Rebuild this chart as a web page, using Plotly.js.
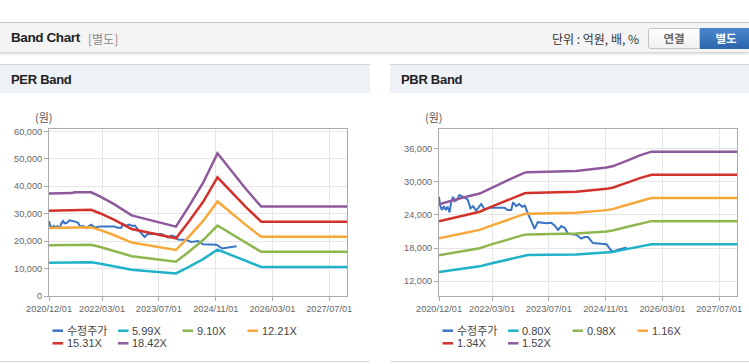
<!DOCTYPE html>
<html>
<head>
<meta charset="utf-8">
<script src="https://cdn.plot.ly/plotly-3.0.1.min.js"></script>
<style>
html,body{margin:0;padding:0;background:#fff;width:749px;height:364px;overflow:hidden;
  font-family:"Liberation Sans",Arial,"Noto Sans CJK KR",sans-serif;}
.abs{position:absolute;}
#topline{left:0;top:22px;width:749px;height:1px;background:#c2c2c2;}
#hdr{left:0;top:23px;width:749px;height:29px;background:#f4f4f4;box-shadow:0 2px 2px rgba(0,0,0,0.16);}
#hdrTitle{left:11px;top:30px;font-size:13.5px;font-weight:bold;color:#222;letter-spacing:-0.4px;line-height:16px;}
#hdrSub{left:88px;top:31px;font-size:12px;color:#8a8a8a;line-height:16px;font-family:"Noto Sans CJK KR",sans-serif;}
#unit{left:552px;top:30px;font-size:12px;color:#333;line-height:17px;font-family:"Noto Sans CJK KR",sans-serif;}
#btn1{left:648px;top:28px;width:50px;height:19px;border:1px solid #c4c4c4;border-radius:3px 0 0 3px;
  background:linear-gradient(#ffffff,#f0f0f0);color:#666;font-weight:bold;font-size:11.5px;text-align:center;line-height:19px;
  font-family:"Noto Sans CJK KR",sans-serif;}
#btn2{left:700px;top:28px;width:52px;height:21px;background:linear-gradient(#4a88cc,#2b65ab);color:#fff;font-weight:bold;
  font-size:11.5px;text-align:center;line-height:21px;font-family:"Noto Sans CJK KR",sans-serif;}
.ph{top:64px;height:28px;border-top:1px solid #d6d6d6;background:#eef1f6;}
.pt{top:72px;font-size:13px;font-weight:bold;color:#222;letter-spacing:-0.3px;line-height:16px;}
.bl{top:361px;height:1px;background:#d6d6d6;}
</style>
</head>
<body>
<div id="topline" class="abs"></div>
<div id="hdr" class="abs"></div>
<div id="hdrTitle" class="abs">Band Chart</div>
<div id="hdrSub" class="abs">[별도]</div>
<div id="unit" class="abs">단위 : 억원, 배, %</div>
<div id="btn1" class="abs">연결</div>
<div id="btn2" class="abs">별도</div>

<div class="abs ph" style="left:0;width:370px;"></div>
<div class="abs pt" style="left:11px;">PER Band</div>
<div class="abs ph" style="left:390px;width:359px;"></div>
<div class="abs pt" style="left:401px;">PBR Band</div>

<div id="per" class="abs" style="left:0;top:93px;width:370px;height:268px;"></div>
<div id="pbr" class="abs" style="left:390px;top:93px;width:359px;height:268px;"></div>

<div class="abs bl" style="left:0;width:370px;"></div>
<div class="abs bl" style="left:390px;width:359px;"></div>

<script>
// ---------- data ----------
const xTickVals = ['2020-12-01','2022-03-01','2023-07-01','2024-11-01','2026-03-01','2027-07-01'];
const xTickText = ['2020/12/01','2022/03/01','2023/07/01','2024/11/01','2026/03/01','2027/07/01'];
const xRange = ['2020-12-01','2027-12-01'];

const priceName = '수정주가';
const priceDates = ['2020-12-01','2020-12-10','2020-12-25','2021-01-12','2021-01-28','2021-02-12','2021-03-01','2021-03-16',
  '2021-04-01','2021-04-13','2021-05-04','2021-05-25','2021-07-16','2021-08-06','2021-08-28','2021-09-19','2021-10-16',
  '2021-11-28','2021-12-28','2022-02-10','2022-06-16','2022-07-13','2022-08-13','2022-08-28','2022-09-25','2022-10-19',
  '2022-11-16','2022-12-07','2023-01-04','2023-02-03','2023-03-01','2023-03-28','2023-06-10','2023-07-22','2023-08-19',
  '2023-09-18','2023-10-16','2023-11-13','2023-12-13','2024-02-22','2024-04-04','2024-05-04','2024-06-01','2024-07-13',
  '2024-11-07','2024-12-04','2024-12-28','2025-02-01','2025-03-16','2025-04-28'];
const priceValues = [27300,25800,24900,25600,24900,25500,24500,26400,27300,26500,26700,27600,27100,26700,25200,25600,24800,
  26000,25000,25300,25300,24900,24900,26300,25600,26000,25500,25700,24200,22700,21500,22700,22500,22600,22100,21300,22000,
  21700,20600,20400,19700,20000,20000,18900,18700,17900,17300,17600,17900,18100];

const perBandDates = ['2020-12-01','2021-06-15','2021-07-10','2021-11-28','2022-02-15','2022-06-15','2022-11-10','2023-03-15',
  '2023-07-15','2023-11-25','2024-03-15','2024-07-15','2024-11-15','2025-03-15','2025-07-15','2025-11-25','2027-12-01'];
const perNames = ['5.99X','9.10X','12.21X','15.31X','18.42X'];
const per599  = [12160,12200,12290,12290,11770,10860,9560,9140,8720,8220,10630,13430,16910,14830,12720,10600,10600];
const per910  = [18470,18530,18670,18670,17880,16500,14520,13890,13240,12490,16150,20400,25690,22530,19320,16110,16110];
const per1221 = [24790,24860,25050,25050,23990,22140,19490,18630,17770,16760,21670,27370,34470,30230,25920,21610,21610];
const per1531 = [31080,31170,31420,31420,30080,27760,24430,23360,22280,21020,27180,34330,43220,37910,32500,27100,27100];
const per1842 = [37400,37500,37800,37800,36200,33400,29400,28100,26800,25300,32700,41300,52000,45600,39100,32600,32600];
const perYTicks = [0,10000,20000,30000,40000,50000,60000];

const pbrBandDates = ['2020-12-01','2021-05-25','2021-11-15','2022-02-10','2022-06-15','2022-09-25','2022-12-06','2023-01-01',
  '2024-02-20','2024-11-07','2024-12-28','2025-04-28','2025-08-20','2025-11-27','2027-12-01'];
const pbrNames = ['0.80X','0.98X','1.16X','1.34X','1.52X'];
const pbr080 = [13640,14200,14680,15160,15800,16320,16680,16720,16840,17160,17280,17800,18320,18680,18680];
const pbr098 = [16710,17400,17980,18570,19360,19990,20430,20480,20630,21020,21170,21810,22440,22880,22880];
const pbr116 = [19780,20590,21290,21980,22910,23660,24190,24240,24420,24880,25060,25810,26560,27090,27090];
const pbr134 = [22850,23790,24590,25390,26470,27340,27940,28010,28210,28740,28940,29820,30690,31290,31290];
const pbr152 = [25920,26980,27890,28800,30020,31010,31690,31770,32000,32600,32830,33820,34810,35490,35490];
const pbrYTicks = [12000,18000,24000,30000,36000];

const seriesColors = ['#3a74c4','#1fb2c8','#8db64f','#f6a83a','#d2322b','#8e5a9d'];
const yUnit = '(원)';

// ---------- drawing ----------
const PW = 298, PH = 167;
const tickFont = {family:'"Liberation Sans", Arial, sans-serif', size:9.2, color:'#666'};
const legFont = {family:'"Liberation Sans", Arial, "Noto Sans CJK KR", sans-serif', size:11, color:'#444'};

function legend(names) {
  const shapes = [], anns = [];
  const colX = [3.5, 69, 133.5, 198.5];
  const rowY = [34.7, 47.3];
  names.forEach((n, i) => {
    const c = i % 4, r = Math.floor(i / 4);
    const y = -rowY[r] / PH;
    shapes.push({type:'line', xref:'paper', yref:'paper', x0:colX[c]/PW, x1:(colX[c]+10.5)/PW, y0:y, y1:y,
      line:{color:seriesColors[i], width:2.5}});
    anns.push({xref:'paper', yref:'paper', x:(colX[c]+12)/PW, y:y, xanchor:'left', yanchor:'middle',
      text:n, showarrow:false, font:legFont});
  });
  return {shapes, anns};
}

function makeChart(div, W, bandDates, bands, names, yRange, yTicks) {
  const traces = [{x:priceDates, y:priceValues, name:priceName, type:'scatter', mode:'lines',
    line:{color:seriesColors[0], width:2}}];
  bands.forEach((b, i) => traces.push({x:bandDates, y:b, name:names[i], type:'scatter', mode:'lines',
    line:{color:seriesColors[i+1], width:2.5}}));
  const lg = legend([priceName].concat(names));
  lg.anns.push({xref:'paper', yref:'paper', x:0, y:1, xshift:-5, yshift:12, xanchor:'center', yanchor:'middle',
    text:yUnit, showarrow:false, font:{family:'"Noto Sans CJK KR", sans-serif', size:11, color:'#555'}});
  const layout = {
    width:W, height:268,
    margin:{l:49, r:W-49-PW, t:36, b:268-36-PH, pad:0},
    paper_bgcolor:'rgba(0,0,0,0)', plot_bgcolor:'#ffffff',
    showlegend:false, hovermode:false,
    xaxis:{type:'date', range:xRange, tickmode:'array', tickvals:xTickVals, ticktext:xTickText,
      showgrid:true, gridcolor:'#e6e6e6', gridwidth:1, showline:true, linecolor:'#ababab', linewidth:1, mirror:true,
      ticks:'outside', ticklen:4, tickcolor:'#ababab', tickfont:tickFont, zeroline:false, fixedrange:true},
    yaxis:{range:yRange, tickmode:'array', tickvals:yTicks, tickformat:',d',
      showgrid:true, gridcolor:'#e6e6e6', gridwidth:1, showline:true, linecolor:'#ababab', linewidth:1, mirror:true,
      ticks:'outside', ticklen:4, tickcolor:'#ababab', tickfont:tickFont, zeroline:false, fixedrange:true},
    shapes:lg.shapes, annotations:lg.anns
  };
  Plotly.newPlot(div, traces, layout, {staticPlot:true, displayModeBar:false});
}

makeChart('per', 370, perBandDates, [per599, per910, per1221, per1531, per1842], perNames, [0, 60870], perYTicks);
makeChart('pbr', 359, pbrBandDates, [pbr080, pbr098, pbr116, pbr134, pbr152], pbrNames, [9300, 39600], pbrYTicks);
</script>
</body>
</html>
